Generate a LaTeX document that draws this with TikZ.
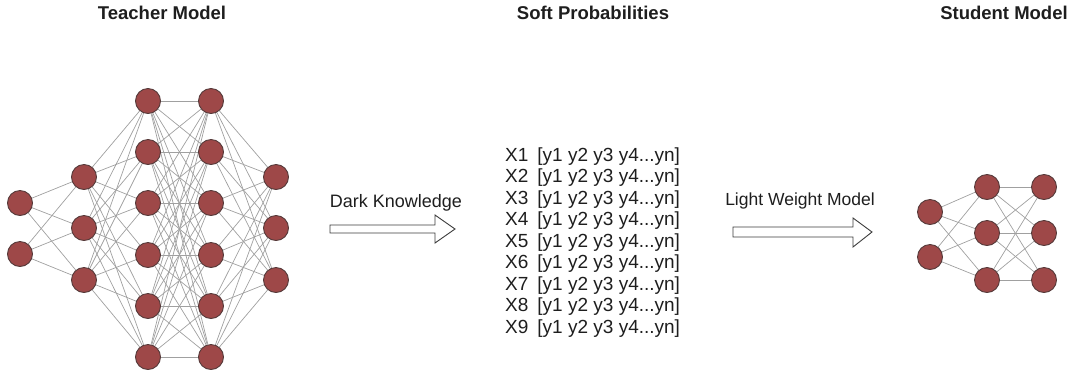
\documentclass[tikz,border=0pt]{standalone}
\usepackage{fontspec}
\setmainfont{Liberation Sans}
\usetikzlibrary{backgrounds}
\definecolor{neuron}{RGB}{158,72,72}
\definecolor{neuronedge}{RGB}{85,58,58}
\definecolor{wire}{RGB}{160,160,160}
\definecolor{ink}{RGB}{30,30,30}
\definecolor{arrowink}{RGB}{60,60,60}
\begin{document}
\begin{tikzpicture}[x=1pt,y=-1pt,
  neuronnode/.style={circle,fill=neuron,draw=neuronedge,line width=0.9pt,minimum size=25pt,inner sep=0pt},
  wireline/.style={draw=wire,line width=0.7pt},
  titletext/.style={font=\fontsize{18.5}{22}\selectfont\bfseries,text=ink,inner sep=0pt},
  labeltext/.style={font=\fontsize{18}{22}\selectfont,text=ink,inner sep=0pt},
  listtext/.style={font=\fontsize{19}{22}\selectfont,text=ink,inner sep=0pt,anchor=base west},
  blockarrow/.style={draw=arrowink,fill=white,line width=0.9pt,line join=miter}
]
\useasboundingbox (0,0) rectangle (1076,376);

% Titles
\node[titletext] (ttitle) at (162,13) {Teacher Model};
\node[titletext] (stitle) at (593,13) {Soft Probabilities};
\node[titletext] (sttitle) at (1004,13) {Student Model};

% Teacher network
\foreach \y [count=\i] in {203,254} \node[neuronnode] (ta\i) at (20,\y) {};
\foreach \y [count=\i] in {177,228,280} \node[neuronnode] (tb\i) at (84,\y) {};
\foreach \y [count=\i] in {101,152,203,255,306,357} \node[neuronnode] (tc\i) at (148,\y) {};
\foreach \y [count=\i] in {101,152,203,255,306,357} \node[neuronnode] (td\i) at (211,\y) {};
\foreach \y [count=\i] in {177,228,280} \node[neuronnode] (te\i) at (276,\y) {};

% Student network
\foreach \y [count=\i] in {212,257} \node[neuronnode] (sa\i) at (930,\y) {};
\foreach \y [count=\i] in {187,233,280} \node[neuronnode] (sb\i) at (987,\y) {};
\foreach \y [count=\i] in {187,233,280} \node[neuronnode] (sc\i) at (1044,\y) {};

\begin{scope}[on background layer]
  \foreach \i in {1,2} \foreach \j in {1,2,3} \draw[wireline] (ta\i) -- (tb\j);
  \foreach \i in {1,2,3} \foreach \j in {1,...,6} \draw[wireline] (tb\i) -- (tc\j);
  \foreach \i in {1,...,6} \foreach \j in {1,...,6} \draw[wireline] (tc\i) -- (td\j);
  \foreach \i in {1,...,6} \foreach \j in {1,2,3} \draw[wireline] (td\i) -- (te\j);
  \foreach \i in {1,2} \foreach \j in {1,2,3} \draw[wireline] (sa\i) -- (sb\j);
  \foreach \i in {1,2,3} \foreach \j in {1,2,3} \draw[wireline] (sb\i) -- (sc\j);
\end{scope}

% Arrows and labels
\node[labeltext] (darklabel) at (396,203) {Dark Knowledge};
\draw[blockarrow] (330,225) -- (435,225) -- (435,215) -- (455,229) -- (435,243) -- (435,233) -- (330,233) -- cycle;
\node[labeltext,font=\fontsize{17.5}{20}\selectfont] (lightlabel) at (800,201) {Light Weight Model};
\draw[blockarrow] (733,227) -- (853,227) -- (853,218) -- (872,232) -- (853,247) -- (853,237) -- (733,237) -- cycle;

% Soft probabilities list
\foreach \n in {1,...,9}
  \node[listtext] (row\n) at (505,{161+(\n-1)*21.5}) {X\n\hspace{9pt}[y1 y2 y3 y4...yn]};
\end{tikzpicture}
\end{document}
